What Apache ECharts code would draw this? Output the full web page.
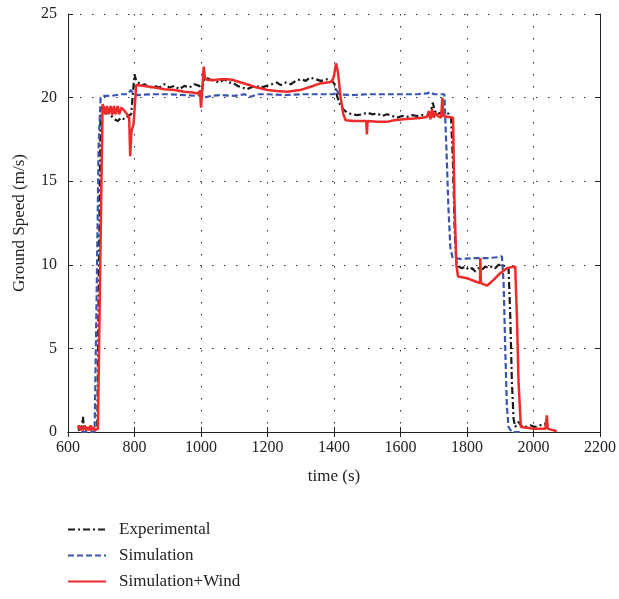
<!DOCTYPE html>
<html>
<head>
<meta charset="utf-8">
<script src="https://cdn.jsdelivr.net/npm/echarts@6/dist/echarts.min.js"></script>
<style>html,body{margin:0;padding:0;background:#fff}#c{width:619px;height:599px}</style>
</head>
<body>
<div id="c"></div>
<script>
const xTicks = [600, 800, 1000, 1200, 1400, 1600, 1800, 2000, 2200];
const yTicks = [0, 5, 10, 15, 20, 25];
const seriesNames = ['Experimental', 'Simulation', 'Simulation+Wind'];

const tExp = [630,640,645,648,660,680,688,693,698,705,712,720,730,740,750,760,770,780,790,795,800,805,812,820,830,845,860,875,890,905,920,935,950,965,980,995,1002,1008,1015,1025,1040,1055,1070,1085,1096,1110,1125,1138,1150,1165,1180,1198,1213,1228,1240,1255,1270,1285,1300,1315,1328,1345,1360,1380,1394,1402,1409,1418,1428,1439,1455,1470,1485,1500,1515,1530,1545,1560,1575,1590,1605,1620,1635,1650,1665,1680,1690,1697,1703,1712,1720,1735,1745,1752,1758,1763,1768,1775,1785,1795,1805,1815,1825,1835,1845,1855,1865,1875,1885,1895,1905,1915,1925,1930,1935,1940,1945,1955,1962,1975,1990,2005,2020,2035,2040];
const vExp = [0.1,0.2,0.9,0.1,0.2,0.1,0.3,10,19.3,19.5,19.0,19.2,18.9,18.7,18.6,18.8,18.7,18.9,19.0,20.2,21.4,21.0,20.9,20.7,20.8,20.6,20.7,20.6,20.8,20.6,20.7,20.5,20.7,20.6,20.8,20.7,20.3,21.0,21.2,21.1,21.0,20.9,21.1,20.9,20.9,20.7,20.6,20.5,20.6,20.7,20.6,20.7,20.8,20.9,20.75,20.9,20.8,21.0,21.1,21.0,21.2,21.1,21.0,21.1,21.0,20.8,20.1,19.6,19.3,19.1,19.0,18.95,19.0,19.1,19.0,19.05,18.9,19.0,18.9,18.8,18.9,18.85,18.95,18.9,18.95,18.9,19.0,19.7,19.2,19.0,19.1,19.0,19.05,18.8,16,12,10.2,9.9,9.8,9.9,9.7,9.8,9.6,9.8,9.7,9.9,9.8,9.9,9.8,10.0,10.0,9.9,9.8,7,3,0.8,0.3,0.6,0.4,0.3,0.4,0.3,0.4,0.5,0.2];

const tSim = [640,660,680,686,692,698,705,730,760,780,788,795,805,850,900,950,990,1000,1010,1030,1060,1100,1130,1150,1170,1200,1250,1300,1350,1400,1408,1415,1450,1500,1550,1600,1650,1680,1690,1700,1732,1738,1744,1750,1757,1780,1820,1860,1890,1905,1910,1915,1920,1925,1935,1960];
const vSim = [0,0,0,8,17,20.0,20.1,20.1,20.2,20.2,20.45,20.3,20.15,20.2,20.2,20.15,20.1,20.2,20.0,20.1,20.15,20.1,20.2,20.05,20.2,20.2,20.15,20.2,20.2,20.2,20.45,20.2,20.15,20.2,20.2,20.2,20.2,20.25,20.35,20.2,20.2,17,13.5,11,10.4,10.35,10.4,10.4,10.45,10.5,9,5,1.5,0.3,0,0];

const tWind = [630,633,637,641,645,650,655,660,664,668,672,676,680,686,690,697,704,708,712,717,722,728,733,738,743,749,754,760,770,778,784,787,791,797,801,805,830,860,890,920,950,975,990,997,1000,1004,1008,1012,1020,1040,1060,1080,1096,1120,1145,1168,1200,1228,1260,1298,1330,1358,1394,1400,1406,1412,1420,1428,1435,1460,1497,1499,1501,1530,1559,1580,1610,1640,1668,1680,1685,1690,1695,1700,1705,1712,1718,1722,1726,1729,1740,1758,1762,1768,1773,1800,1825,1839,1840,1842,1860,1880,1900,1920,1945,1950,1955,1962,1980,2000,2020,2036,2040,2043,2060,2070];
const vWind = [0.2,0.4,0.1,0.3,0.1,0.4,0.1,0.3,0.1,0.4,0.1,0.3,0.1,0.2,0.2,10,19.6,19.4,19.0,19.5,19.0,19.5,18.95,19.5,19.0,19.5,19.0,19.4,19.2,19.0,18.8,16.5,18.0,18.4,19.5,20.75,20.7,20.6,20.5,20.45,20.35,20.3,20.25,20.4,19.4,20.5,21.85,21.2,21.05,21.05,21.1,21.1,21.05,20.9,20.75,20.6,20.45,20.4,20.35,20.45,20.65,20.85,20.95,21.3,22.05,21.5,20.0,19.0,18.65,18.6,18.6,17.8,18.6,18.55,18.55,18.65,18.7,18.75,18.8,18.85,19.2,18.7,19.3,18.8,19.1,18.9,19.0,18.8,20.0,18.9,18.85,18.8,14,10,9.3,9.2,9.0,8.9,10.4,8.9,8.75,9.1,9.5,9.8,9.9,7,3,0.3,0.25,0.2,0.2,0.2,1.0,0.2,0.1,0.05];

const zip = (t, v) => t.map((x, i) => [x, v[i]]);
const FONT = '"Liberation Serif", "DejaVu Serif", serif';
const gridLine = { show: true, lineStyle: { color: '#333', type: [1.5, 10.5], width: 1 } };
const legendTops = [516, 542, 568];
const legends = seriesNames.map((n, i) => ({
  orient: 'vertical', left: 62, top: legendTops[i],
  itemWidth: 38, itemHeight: 14,
  data: [n],
  itemStyle: { opacity: 0 },
  textStyle: { fontFamily: FONT, fontSize: 17, color: '#222', padding: [0, 0, 0, 8] }
}));
const chart = echarts.init(document.getElementById('c'), null, { renderer: 'canvas' });
chart.setOption({
  animation: false,
  backgroundColor: '#fff',
  grid: { left: 68, right: 19, top: 14, bottom: 167, show: false },
  legend: legends,
  xAxis: [{
    type: 'value', min: 600, max: 2200, interval: 200, position: 'bottom',
    name: 'time (s)', nameLocation: 'middle', nameGap: 36,
    nameTextStyle: { fontFamily: FONT, fontSize: 17, color: '#222' },
    axisLine: { show: true, lineStyle: { color: '#222', width: 1 } },
    axisTick: { show: true, inside: true, length: 5, lineStyle: { color: '#222' } },
    axisLabel: { fontFamily: FONT, fontSize: 16, color: '#222', margin: 8, formatter: v => String(v) },
    splitLine: gridLine
  }, {
    type: 'value', min: 600, max: 2200, interval: 200, position: 'top',
    axisLine: { show: true, lineStyle: { color: '#222', width: 1 } },
    axisTick: { show: true, inside: true, length: 5, lineStyle: { color: '#222' } },
    axisLabel: { show: false }, splitLine: { show: false }
  }],
  yAxis: [{
    type: 'value', min: 0, max: 25, interval: 5, position: 'left',
    name: 'Ground Speed (m/s)', nameLocation: 'middle', nameGap: 40,
    nameTextStyle: { fontFamily: FONT, fontSize: 17, color: '#222' },
    axisLine: { show: true, lineStyle: { color: '#222', width: 1 } },
    axisTick: { show: true, inside: true, length: 5, lineStyle: { color: '#222' } },
    axisLabel: { fontFamily: FONT, fontSize: 16, color: '#222', margin: 11, formatter: v => String(v) },
    splitLine: gridLine
  }, {
    type: 'value', min: 0, max: 25, interval: 5, position: 'right',
    axisLine: { show: true, lineStyle: { color: '#222', width: 1 } },
    axisTick: { show: true, inside: true, length: 5, lineStyle: { color: '#222' } },
    axisLabel: { show: false }, splitLine: { show: false }
  }],
  series: [{
    name: seriesNames[0], type: 'line', data: zip(tExp, vExp),
    symbol: 'none', showSymbol: false,
    color: '#1a1a1a',
    lineStyle: { color: '#1a1a1a', width: 2.2, type: [7, 3, 2, 3] }
  }, {
    name: seriesNames[1], type: 'line', data: zip(tSim, vSim),
    symbol: 'none', showSymbol: false,
    color: '#3a55b0',
    lineStyle: { color: '#3a55b0', width: 2.2, type: [6, 3] }
  }, {
    name: seriesNames[2], type: 'line', data: zip(tWind, vWind),
    symbol: 'none', showSymbol: false,
    color: '#ee2b2b',
    lineStyle: { color: '#ee2b2b', width: 2.5, type: 'solid' }
  }]
});
</script>
</body>
</html>
